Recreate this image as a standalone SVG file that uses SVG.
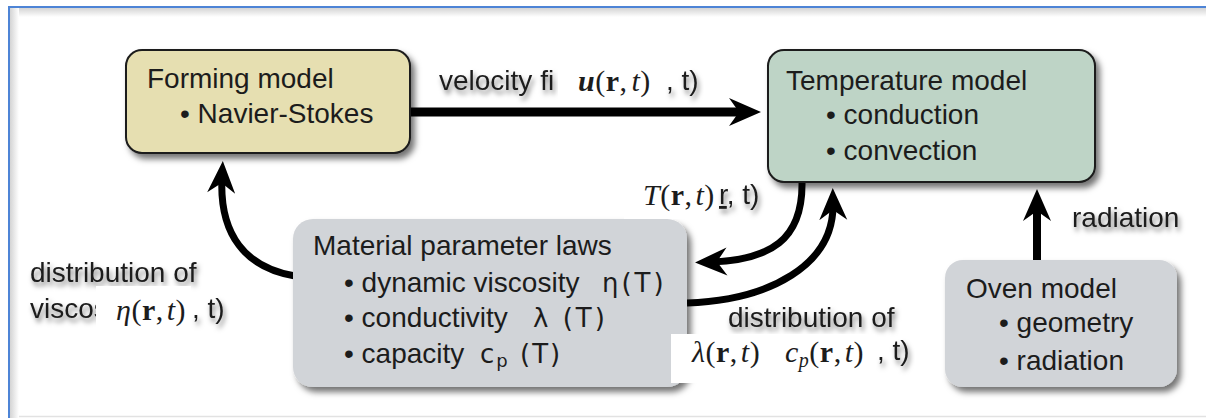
<svg xmlns="http://www.w3.org/2000/svg" width="1206" height="418" viewBox="0 0 1206 418">
<defs>
<style>
.t{font-family:"Liberation Sans",Arial,sans-serif;font-size:28px;fill:#1c1c1c}
.m{font-family:"Liberation Serif","Times New Roman",serif;font-size:30px;fill:#1c1c1c;letter-spacing:0.5px}
.i{font-style:italic}
.b{font-weight:bold}
.bi{font-weight:bold;font-style:italic}
.sym{font-family:"DejaVu Sans","Liberation Sans",sans-serif;font-size:26px;fill:#1c1c1c}
.lbl{filter:url(#ts)}
.conn{fill:none;stroke:#000;stroke-linecap:butt}
.wb{fill:#fff}
</style>
<filter id="ds" x="-10%" y="-10%" width="125%" height="130%">
<feDropShadow dx="4" dy="5" stdDeviation="3" flood-color="#000" flood-opacity="0.55"/>
</filter>
<filter id="ts" x="-10%" y="-30%" width="125%" height="170%">
<feDropShadow dx="2" dy="4" stdDeviation="2.5" flood-color="#000" flood-opacity="0.5"/>
</filter>
<marker id="head" viewBox="-34 -16 36 32" markerWidth="36" markerHeight="32" refX="-16" refY="0" markerUnits="userSpaceOnUse" orient="auto">
<path d="M0,0 L-32,-14 L-22,0 L-32,14 Z" fill="#000"/>
</marker>
<linearGradient id="gt" x1="0" y1="0" x2="0" y2="1"><stop offset="0" stop-color="#d4d4d4"/><stop offset="1" stop-color="#fff"/></linearGradient>
<linearGradient id="gl" x1="0" y1="0" x2="1" y2="0"><stop offset="0" stop-color="#d4d4d4"/><stop offset="1" stop-color="#fff"/></linearGradient>
</defs>
<rect width="1206" height="418" fill="#fff"/>
<g id="frame">
<rect x="10" y="8" width="1196" height="9" fill="url(#gt)"/>
<rect x="10" y="8" width="9" height="410" fill="url(#gl)"/>
<line x1="19" y1="416.5" x2="1206" y2="416.5" stroke="#e2e2e2" stroke-width="1.5"/>
<path d="M9,418 V7 H1206" fill="none" stroke="#4d84d6" stroke-width="2"/>
</g>
<g id="connectors">
<path class="conn" d="M410,112 H745" stroke-width="9" marker-end="url(#head)"/>
<path class="conn" d="M1037,262 V205" stroke-width="8" marker-end="url(#head)"/>
<path class="conn" d="M295,276 C246,268 219,235 222,177" stroke-width="7" marker-end="url(#head)"/>
<path class="conn" d="M802,182 C803,240 770,260 711,262" stroke-width="7" marker-end="url(#head)"/>
<path class="conn" d="M687,303 C770,300 834,265 833,204" stroke-width="7" marker-end="url(#head)"/>
</g>
<g id="forming">
<rect x="126" y="50" width="284" height="103" rx="16" fill="#e6dfb1" stroke="#1a1a1a" stroke-width="2" filter="url(#ds)"/>
<text class="t" x="147" y="88">Forming model</text>
<text class="t" x="180" y="123">• Navier-Stokes</text>
</g>
<g id="temperature">
<rect x="768" y="50" width="327" height="132" rx="16" fill="#bed4c6" stroke="#1a1a1a" stroke-width="2" filter="url(#ds)"/>
<text class="t" x="786" y="90">Temperature model</text>
<text class="t" x="826" y="124">• conduction</text>
<text class="t" x="826" y="160">• convection</text>
</g>
<g id="material">
<rect x="293" y="219" width="394" height="168" rx="20" fill="#d1d4d8" filter="url(#ds)"/>
<text class="t" x="313" y="255">Material parameter laws</text>
<text class="t" x="344" y="292">• dynamic viscosity</text>
<text class="sym" x="602" y="292" letter-spacing="3">η(T)</text>
<text class="t" x="344" y="327">• conductivity</text>
<text class="sym" x="533" y="327" letter-spacing="3">λ (T)</text>
<text class="t" x="344" y="363">• capacity</text>
<text class="sym" x="480" y="363" letter-spacing="2">c<tspan font-size="18" dy="4">p</tspan><tspan dy="-4"> (T)</tspan></text>
</g>
<g id="oven">
<rect x="945" y="260" width="232" height="127" rx="18" fill="#d1d4d8" filter="url(#ds)"/>
<text class="t" x="966" y="298">Oven model</text>
<text class="t" x="999" y="332">• geometry</text>
<text class="t" x="999" y="370">• radiation</text>
</g>
<g id="label-velocity">
<text class="t lbl" x="439" y="90">velocity fi</text>
<rect class="wb" x="558" y="65" width="106" height="38"/>
<text class="m" x="578" y="91"><tspan class="bi">u</tspan>(<tspan class="b">r</tspan>,<tspan class="i" dx="4">t</tspan>)</text>
<text class="t lbl" x="666" y="90">, t)</text>
</g>
<g id="label-temp">
<rect class="wb" x="624" y="172" width="94" height="47"/>
<text class="m" x="643" y="205"><tspan class="i">T</tspan>(<tspan class="b">r</tspan>,<tspan class="i" dx="3">t</tspan>)</text>
<text class="t lbl" x="719" y="204"><tspan text-decoration="underline">r</tspan>, t)</text>
</g>
<g id="label-viscosity">
<text class="t lbl" x="30" y="318">viscos</text>
<text class="t lbl" x="30" y="282">distribution of</text>
<rect class="wb" x="96" y="286" width="95" height="47"/>
<text class="m" x="116" y="320"><tspan class="i">η</tspan>(<tspan class="b">r</tspan>,<tspan class="i" dx="3">t</tspan>)</text>
<text class="t lbl" x="192" y="318">, t)</text>
</g>
<g id="label-conductivity">
<text class="t lbl" x="728" y="327">distribution of</text>
<rect class="wb" x="671" y="334" width="204" height="49"/>
<text class="m" x="692" y="362"><tspan class="i">λ</tspan>(<tspan class="b">r</tspan>,<tspan class="i" dx="3">t</tspan>)</text>
<text class="m" x="785" y="362"><tspan class="i">c</tspan><tspan class="i" font-size="20" dy="5">p</tspan><tspan dy="-5">(</tspan><tspan class="b">r</tspan>,<tspan class="i" dx="3">t</tspan>)</text>
<text class="t lbl" x="877" y="360">, t)</text>
</g>
<g id="label-radiation">
<text class="t lbl" x="1072" y="227">radiation</text>
</g>
</svg>
